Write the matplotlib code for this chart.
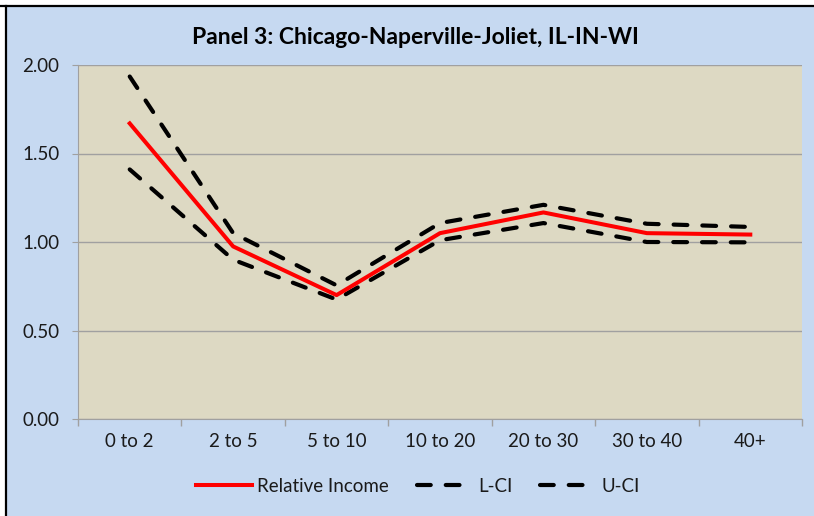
import numpy as np
import matplotlib
matplotlib.use('Agg')
import matplotlib.pyplot as plt
from matplotlib.lines import Line2D
import matplotlib.ticker as ticker

plt.rcParams['font.family'] = ['Lato', 'DejaVu Sans']

categories = ['0 to 2', '2 to 5', '5 to 10', '10 to 20', '20 to 30', '30 to 40', '40+']
relative_income = [1.67, 0.975, 0.70, 1.05, 1.167, 1.05, 1.042]
lower_ci = [1.41, 0.90, 0.675, 1.01, 1.107, 1.00, 0.998]
upper_ci = [1.935, 1.05, 0.755, 1.107, 1.21, 1.103, 1.085]

fig = plt.figure(figsize=(8.14, 5.16), dpi=100)
fig.patch.set_facecolor('#C6D9F1')
ax = fig.add_axes([78/814, 1-419/516, 724/814, 354/516])
ax.set_facecolor('#DDD9C3')

x = np.arange(len(categories))
ax.plot(x, relative_income, color='#FF0000', lw=2.9, label='Relative Income', zorder=3)
ax.plot(x, lower_ci, color='black', lw=3.0, dashes=(3.3, 3.6), dash_capstyle='round', label='L-CI', zorder=2)
ax.plot(x, upper_ci, color='black', lw=3.0, dashes=(3.3, 3.6), dash_capstyle='round', label='U-CI', zorder=2)

ax.set_xlim(-0.5, len(categories) - 0.5)
ax.set_ylim(0, 2)
ax.yaxis.set_major_locator(ticker.MultipleLocator(0.5))
ax.yaxis.set_major_formatter(ticker.FormatStrFormatter('%.2f'))
ax.grid(axis='y', color='#A0A0A0', lw=1)
ax.set_axisbelow(True)

ax.set_xticks(np.arange(-0.5, len(categories)), labels=[''] * (len(categories) + 1))
ax.set_xticks(x, labels=categories, minor=True)
ax.tick_params(axis='x', which='major', length=5, color='#A0A0A0', width=1)
ax.tick_params(axis='x', which='minor', length=0, pad=10, labelsize=13.5, labelcolor='#1a1a1a')
ax.tick_params(axis='y', length=4.5, color='#A0A0A0', labelsize=13.5, pad=9, labelcolor='#1a1a1a')

for s in ['top', 'right']:
    ax.spines[s].set_visible(False)
for s in ['left', 'bottom']:
    ax.spines[s].set_color('#A0A0A0')

fig.text(415/814, 1-38/516, 'Panel 3: Chicago-Naperville-Joliet, IL-IN-WI',
         ha='center', va='center', fontsize=16.5, fontweight='bold')

fig.legend(loc='center', bbox_to_anchor=(418/814, 1-486/516), ncol=3, frameon=False,
           fontsize=13.5, handlelength=3.0, columnspacing=1.5, handletextpad=0.25,
           labelcolor='#1a1a1a')

# outer frame of the chart object
fig.add_artist(Line2D([0, 1], [1-5.5/516, 1-5.5/516], color='black', lw=1.6, transform=fig.transFigure))
fig.add_artist(Line2D([6/814, 6/814], [0, 1-5.5/516], color='black', lw=1.6, transform=fig.transFigure))
fig.add_artist(plt.Rectangle((0, 1-4.5/516), 1, 4.5/516, color='white', transform=fig.transFigure))
fig.add_artist(plt.Rectangle((0, 0), 5/814, 1, color='white', transform=fig.transFigure))

fig.savefig('out.png', dpi=100, facecolor=fig.get_facecolor())
